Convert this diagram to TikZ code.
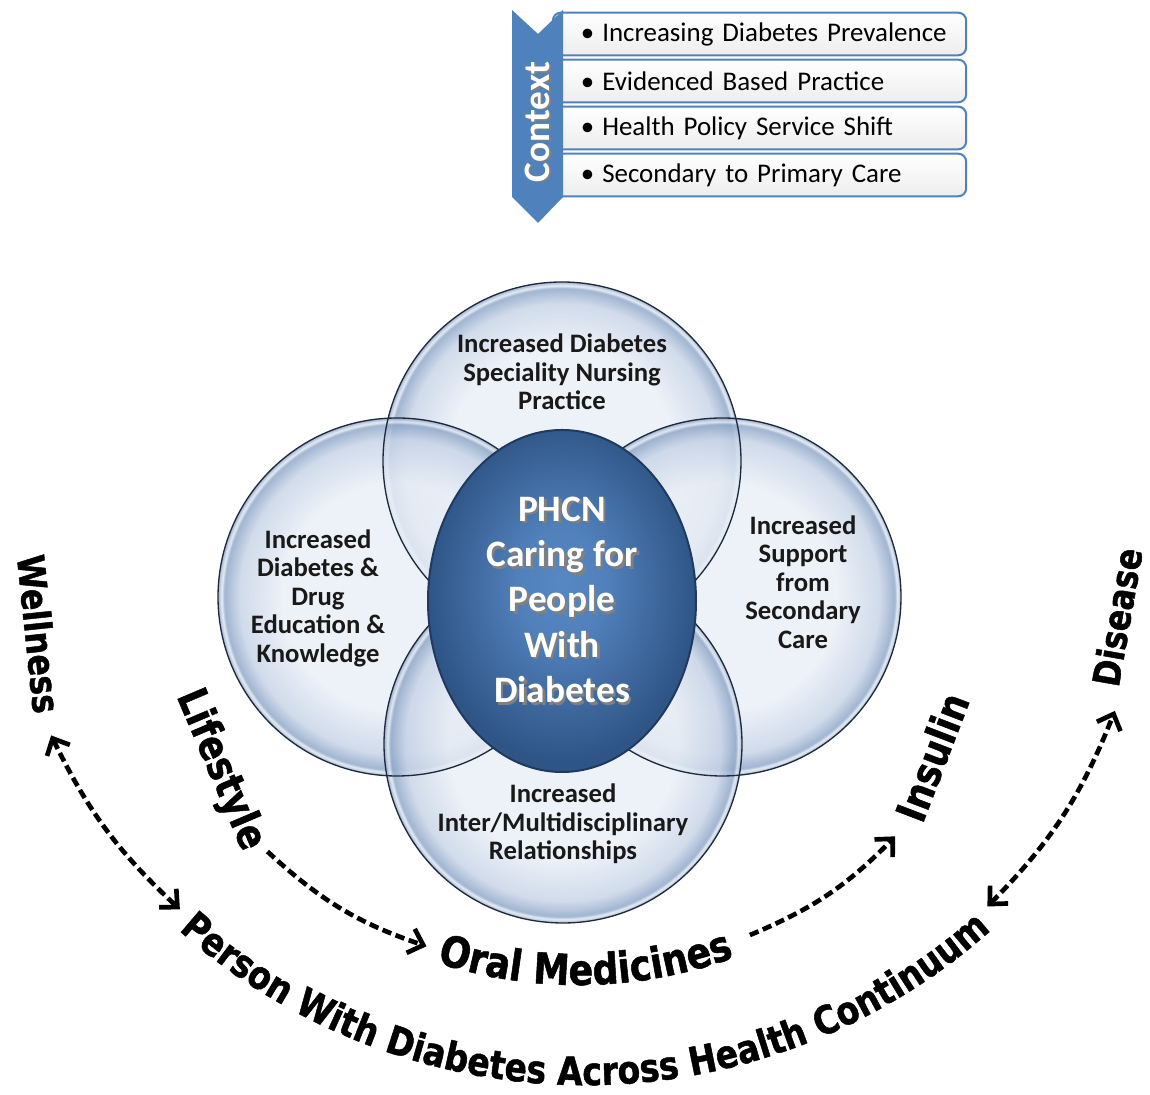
\documentclass[tikz,border=0pt]{standalone}
\usepackage{fontspec}
\setmainfont{Carlito}
\newfontfamily\arcfont[FakeStretch=0.85, FakeBold=1.2]{DejaVu Sans}
\usepackage{xcolor}
\usetikzlibrary{arrows.meta, calc, shapes.geometric, decorations.text}

\definecolor{ctxblue}{HTML}{4F81BD}
\definecolor{ballin}{HTML}{E9EEF6}
\definecolor{ballmid}{HTML}{C6D3E6}
\definecolor{ballrim}{HTML}{8CA5C7}
\definecolor{ballline}{HTML}{1F2B3D}
\definecolor{corein}{HTML}{5788C4}
\definecolor{coreout}{HTML}{2F5587}
\definecolor{coreline}{HTML}{1F3A5E}
\definecolor{shadowgray}{HTML}{808080}

% glassy look of the four outer circles
\pgfdeclareradialshading{glassball}{\pgfpoint{0bp}{0bp}}{color(0bp)=(ballin); color(16bp)=(ballin); color(22bp)=(ballmid); color(24.1bp)=(ballrim); color(24.5bp)=(white!75!ballrim); color(25bp)=(ballrim); color(50bp)=(ballrim)}
\pgfdeclareradialshading{coreball}{\pgfpoint{0bp}{3bp}}{color(0bp)=(corein); color(8bp)=(corein!85!coreout); color(25bp)=(coreout); color(50bp)=(coreout)}

% white text with a grey drop shadow
\newcommand\dropshadow[3]{\leavevmode\rlap{\kern#2\raisebox{#3}{\textcolor{shadowgray}{#1}}}\textcolor{white}{#1}}

\begin{document}
\begin{tikzpicture}[x=0.75pt, y=0.75pt,
    >={Straight Barb[length=10pt, width=19pt]},
    ctxbox/.style={rectangle, rounded corners=6pt, draw=ctxblue, line width=1.5pt,
      top color=white, bottom color=black!7, minimum height=32pt, inner ysep=0pt,
      inner xsep=10pt, text width=290pt, align=left, font=\fontsize{20.2}{22}\selectfont},
    ctxlabel/.style={rotate=90, font=\bfseries\fontsize{28}{28}\selectfont, inner sep=0pt},
    balltext/.style={align=center, text=black!90, font=\bfseries\fontsize{20}{21.4}\selectfont},
    corenode/.style={ellipse, shade, shading=coreball, draw=coreline, line width=1.5pt,
      minimum width=201pt, minimum height=256.5pt, inner sep=0pt},
    corefont/.style={align=center, font=\bfseries\fontsize{28}{34}\selectfont},
    arclabel/.style={font=\arcfont\bfseries\fontsize{31}{31}\selectfont, inner sep=0pt},
    endlabel/.style={font=\arcfont\bfseries\fontsize{28}{28}\selectfont, inner sep=0pt},
    flow/.style={line width=3.5pt, dash pattern=on 7pt off 3.5pt}]
  \useasboundingbox (0,0) rectangle (1150,1095);

  % context list
  \foreach \i/\txt in {1/Increasing Diabetes Prevalence, 2/Evidenced Based Practice,
                       3/Health Policy Service Shift, 4/Secondary to Primary Care} {
    \node[ctxbox] (ctx\i) at (759.5,1108-47*\i) {\hspace*{11pt}\mbox{\textbullet\hspace{6pt}\txt}};
  }
  \fill[ctxblue] (512,1085) -- (538,1061) -- (563,1085) -- (563,898) -- (538,872) -- (512,898) -- cycle;
  \node[ctxlabel] (ctxlab) at (538,973) {\dropshadow{Context}{-1.2pt}{-1.5pt}};

  % four circles
  \foreach \x/\y in {562/634, 397/498, 722/498, 563/351}
    \shade[shading=glassball, fill opacity=0.82] (\x,\y) circle[radius=179];
  \foreach \x/\y in {562/634, 397/498, 722/498, 563/351}
    \draw[ballline, line width=1pt] (\x,\y) circle[radius=179];

  \node[balltext] (nursing) at (562,723) {Increased Diabetes\\Speciality Nursing\\Practice};
  \node[balltext] (education) at (318,497) {Increased\\Diabetes \&\\Drug\\Education \&\\Knowledge};
  \node[balltext] (support) at (803,513) {Increased\\Support\\from\\Secondary\\Care};
  \node[balltext] (relations) at (563,271) {Increased\\Inter/Multidisciplinary\\Relationships};

  % centre
  \node[corenode] (core) at (562,494) {};
  \node[corefont] (coretext) at (core.center)
    {\dropshadow{PHCN}{2pt}{-2pt}\\\dropshadow{Caring for}{2pt}{-2pt}\\\dropshadow{People}{2pt}{-2pt}\\
     \dropshadow{With}{2pt}{-2pt}\\\dropshadow{Diabetes}{2pt}{-2pt}};

  % continuum
  \coordinate (bigc) at (585,620);
  \coordinate (innc) at (578,565);

  \node[endlabel, rotate=-84] (wellness) at (39,461) {Wellness};
  \node[endlabel, rotate=80] (disease) at (1117,478) {Disease};
  \node[arclabel, rotate=-67] (lifestyle) at (220,325) {Lifestyle};
  \node[arclabel, rotate=69] (insulin) at (932,338) {Insulin};

  \path[decorate, decoration={text along path, text align=center,
      text={|\arcfont\bfseries\fontsize{29.2}{30}\selectfont|Person With Diabetes Across Health Continuum}}]
    (bigc) ++(200:610) arc[start angle=200, end angle=340, radius=610];
  \path[decorate, decoration={text along path, text align=center,
      text={|\arcfont\bfseries\fontsize{32}{32}\selectfont|Oral Medicines}}]
    (innc) ++(230:455) arc[start angle=230, end angle=312, radius=455];

  \coordinate (wellA) at ($(bigc)+(206:594)$);
  \coordinate (personA) at ($(bigc)+(227:594)$);
  \coordinate (contA) at ($(bigc)+(313:590)$);
  \coordinate (diseaseA) at ($(bigc)+(336:580)$);
  \coordinate (lifeA) at ($(innc)+(226:447)$);
  \coordinate (oralA) at ($(innc)+(250:443)$);
  \coordinate (oralB) at ($(innc)+(293:440)$);
  \coordinate (insulinA) at ($(innc)+(316:441)$);

  \draw[flow, <->] (wellA) to[bend right=10.5] (personA);
  \draw[flow, <->] (contA) to[bend right=11.5] (diseaseA);
  \draw[flow, ->] (lifeA) to[bend right=12] (oralA);
  \draw[flow, ->] (oralB) to[bend right=11.5] (insulinA);
\end{tikzpicture}
\end{document}
